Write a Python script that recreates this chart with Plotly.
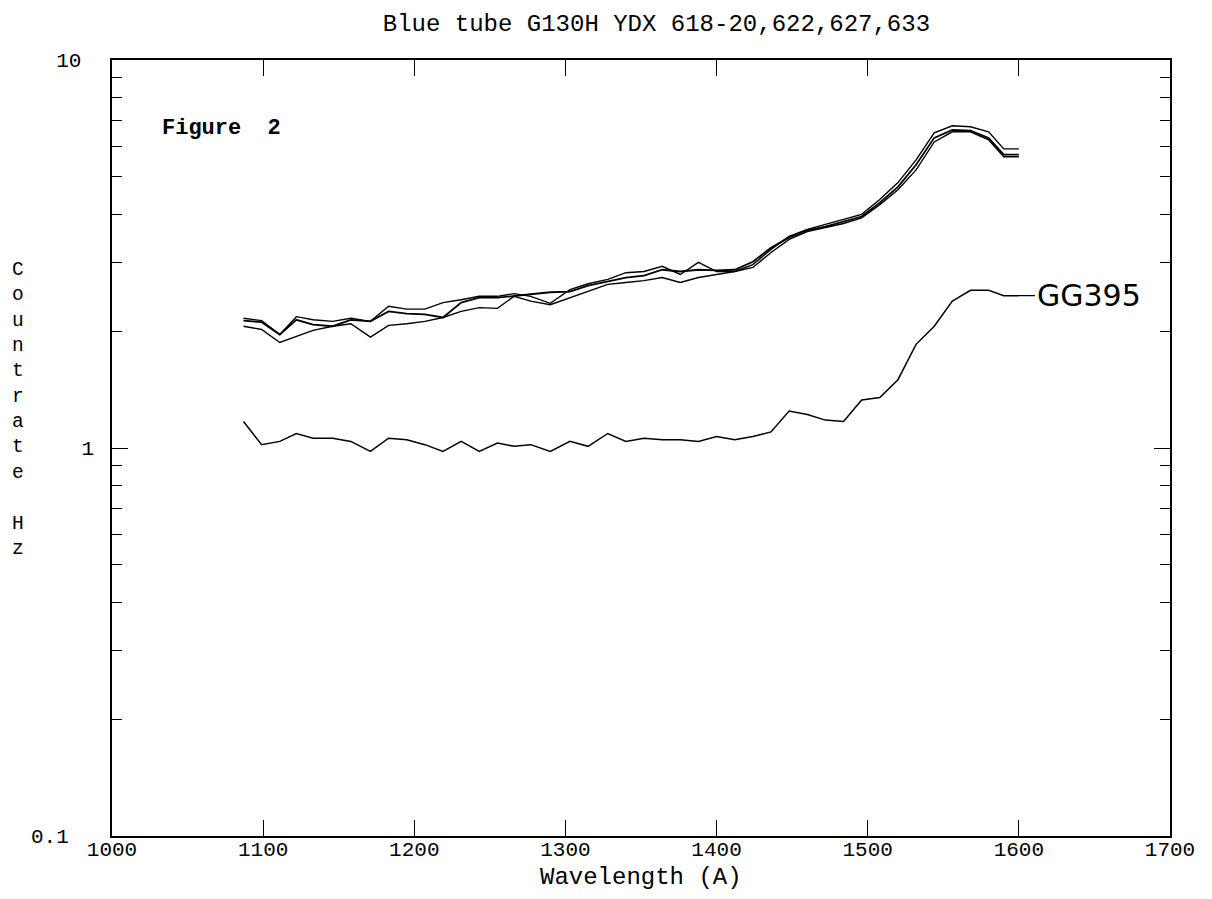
import math
import plotly.graph_objects as go

wavelength = [1087, 1099, 1111, 1122, 1133, 1146, 1158, 1171, 1183, 1195, 1207, 1219, 1231, 1243,
              1255, 1266, 1277, 1290, 1303, 1315, 1328, 1340, 1352, 1364, 1376, 1388, 1400, 1412,
              1424, 1436, 1448, 1460, 1472, 1484, 1496, 1508, 1520, 1532, 1544, 1556, 1568, 1580,
              1590, 1600]

ydx_618 = [2.16, 2.13, 1.96, 2.18, 2.14, 2.12, 2.16, 2.12, 2.32, 2.28, 2.28, 2.37, 2.41, 2.46,
           2.46, 2.50, 2.46, 2.36, 2.56, 2.65, 2.72, 2.83, 2.85, 2.94, 2.80, 3.01, 2.85, 2.85,
           2.97, 3.25, 3.51, 3.66, 3.77, 3.88, 4.00, 4.37, 4.83, 5.53, 6.49, 6.77, 6.73, 6.53,
           5.90, 5.90]

ydx_622 = [2.06, 2.02, 1.87, 1.94, 2.01, 2.06, 2.09, 1.93, 2.07, 2.09, 2.12, 2.17, 2.25, 2.30,
           2.29, 2.46, 2.39, 2.34, 2.44, 2.53, 2.64, 2.67, 2.70, 2.75, 2.67, 2.75, 2.80, 2.85,
           2.92, 3.19, 3.45, 3.61, 3.70, 3.79, 3.92, 4.24, 4.63, 5.21, 6.15, 6.53, 6.53, 6.23,
           5.63, 5.63]

ydx_627 = [2.13, 2.11, 1.96, 2.14, 2.08, 2.06, 2.14, 2.12, 2.25, 2.22, 2.21, 2.17, 2.37, 2.44,
           2.44, 2.46, 2.49, 2.52, 2.53, 2.62, 2.69, 2.75, 2.78, 2.88, 2.85, 2.88, 2.87, 2.88,
           3.02, 3.28, 3.49, 3.64, 3.72, 3.83, 3.95, 4.29, 4.71, 5.37, 6.30, 6.60, 6.58, 6.29,
           5.70, 5.70]

gg395 = [1.17, 1.02, 1.04, 1.09, 1.06, 1.06, 1.04, 0.98, 1.06, 1.05, 1.02, 0.98, 1.04, 0.98,
         1.03, 1.01, 1.02, 0.98, 1.04, 1.01, 1.09, 1.04, 1.06, 1.05, 1.05, 1.04, 1.07, 1.05,
         1.07, 1.10, 1.245, 1.22, 1.18, 1.17, 1.33, 1.35, 1.50, 1.85, 2.06, 2.39, 2.55, 2.55,
         2.47, 2.47]

x_ticks = [1000, 1100, 1200, 1300, 1400, 1500, 1600, 1700]
y_ticks = [0.1, 1, 10]
y_tick_labels = ["0.1\u00a0\u00a0", "1", "10\u00a0"]
y_minor = [0.2, 0.3, 0.4, 0.5, 0.6, 0.7, 0.8, 0.9, 2, 3, 4, 5, 6, 7, 8, 9]

title_text = "Blue tube G130H YDX 618-20,622,627,633"
x_title = "Wavelength (A)"
mono = "Liberation Mono"

fig = go.Figure()
for name, ys, w in [("618-20", ydx_618, 1.4), ("622", ydx_622, 1.4), ("627", ydx_627, 1.8), ("GG395", gg395, 1.5)]:
    fig.add_trace(go.Scatter(x=wavelength, y=ys, mode="lines", name=name,
                             line=dict(color="black", width=w), showlegend=False))

gg_end_log = math.log10(gg395[-1])
fig.add_annotation(x=wavelength[-1], y=gg_end_log, xref="x", yref="y", text="GG395", showarrow=True,
                   arrowhead=0, arrowwidth=1.4, arrowcolor="black", ax=16, ay=0,
                   xanchor="left", yanchor="middle",
                   font=dict(family="DejaVu Sans", size=30, color="black"))
fig.add_annotation(x=0.045, y=0.912, xref="paper", yref="paper", text="<b>Figure  2</b>",
                   showarrow=False, xanchor="left", yanchor="middle",
                   font=dict(family=mono, size=22, color="black"))
ylabel = "<br>".join(list("Countrate") + [" ", "H", "z"])
fig.add_annotation(x=-0.089, y=0.55, xref="paper", yref="paper", text=ylabel, showarrow=False,
                   xanchor="center", yanchor="middle",
                   font=dict(family=mono, size=19.5, color="black"), align="center")
fig.add_annotation(x=0.5, y=-0.034, xref="paper", yref="paper", text=x_title, showarrow=False,
                   xanchor="center", yanchor="top",
                   font=dict(family=mono, size=24, color="black"))

fig.update_layout(
    width=1212, height=899,
    margin=dict(l=104, r=50, t=52, b=71),
    paper_bgcolor="white", plot_bgcolor="white",
    title=dict(text=title_text, x=0.535, xanchor="center", y=0.984, yanchor="middle",
               font=dict(family=mono, size=24, color="black")),
    font=dict(family=mono, color="black"),
)

fig.update_xaxes(range=[1000, 1700], tickvals=x_ticks, ticktext=[str(v) for v in x_ticks],
                 ticks="inside", ticklen=16, tickwidth=1.2, tickcolor="black",
                 showline=True, linecolor="black", linewidth=1.6, mirror="ticks",
                 showgrid=False, zeroline=False, ticklabelstandoff=-7,
                 tickfont=dict(family=mono, size=21, color="black"))
fig.update_yaxes(type="log", range=[-1, 1], tickvals=y_ticks, ticktext=y_tick_labels,
                 ticks="inside", ticklen=16, tickwidth=1.2, tickcolor="black",
                 minor=dict(tickvals=y_minor, ticks="inside", ticklen=10, tickcolor="black", tickwidth=1),
                 showline=True, linecolor="black", linewidth=1.6, mirror="ticks",
                 showgrid=False, zeroline=False, ticklabelstandoff=12,
                 tickfont=dict(family=mono, size=21, color="black"))

fig.write_html("out.html")
